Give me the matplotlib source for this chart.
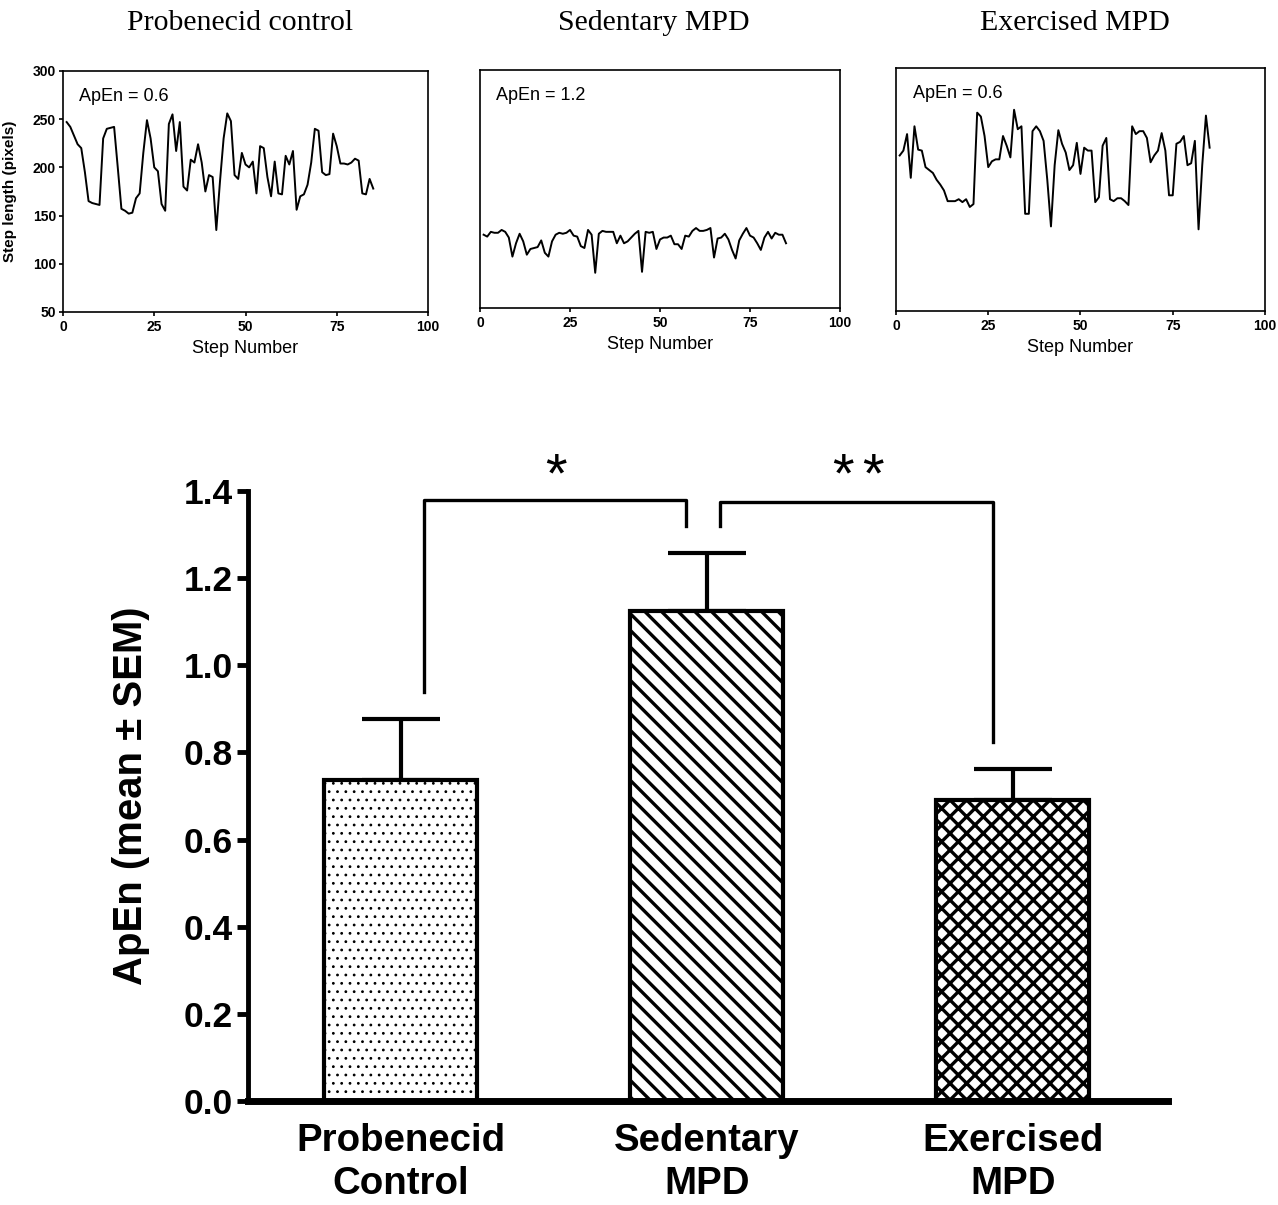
import numpy as np
import matplotlib
matplotlib.use("Agg")
import matplotlib.pyplot as plt
from matplotlib import font_manager

# step length traces (pixels), steps 1..85
steps = np.arange(1, 86)
probenecid_trace = [247, 242, 233, 224, 220, 195, 165, 163, 162, 161,
                    230, 240, 241, 242, 200, 157, 155, 152, 153, 168,
                    173, 215, 249, 230, 200, 196, 162, 155, 245, 255,
                    217, 247, 180, 176, 208, 205, 224, 205, 175, 192,
                    190, 135, 185, 230, 256, 248, 192, 188, 215, 203,
                    200, 206, 173, 222, 220, 190, 170, 206, 173, 172,
                    212, 203, 217, 156, 170, 172, 182, 205, 240, 238,
                    195, 192, 193, 235, 222, 204, 204, 203, 205, 209,
                    207, 173, 172, 188, 178]
sedentary_trace = [127, 125, 130, 129, 129, 132, 130, 124, 104, 118,
                   128, 120, 106, 112, 113, 114, 121, 108, 104, 120,
                   127, 129, 128, 129, 132, 126, 125, 115, 113, 132,
                   127, 87, 128, 131, 130, 130, 130, 118, 126, 118,
                   120, 124, 128, 131, 88, 130, 129, 130, 112, 122,
                   124, 124, 126, 117, 117, 112, 126, 125, 131, 134,
                   131, 131, 132, 134, 103, 123, 124, 128, 122, 111,
                   102, 121, 128, 134, 126, 124, 118, 111, 124, 130,
                   123, 129, 127, 127, 118]
exercised_trace = [210, 215, 232, 187, 240, 216, 215, 198, 195, 192,
                   185, 180, 174, 163, 163, 163, 165, 162, 165, 157,
                   160, 254, 250, 230, 198, 204, 206, 206, 230, 220,
                   208, 257, 237, 240, 150, 150, 235, 240, 235, 225,
                   185, 137, 200, 236, 222, 213, 195, 200, 223, 191,
                   218, 215, 215, 162, 167, 220, 228, 165, 163, 166,
                   166, 163, 159, 240, 232, 235, 235, 228, 203, 210,
                   215, 233, 215, 169, 169, 222, 224, 230, 200, 202,
                   225, 134, 200, 251, 218]

panel_titles = ["Probenecid control", "Sedentary MPD", "Exercised MPD"]
panel_apen = ["ApEn = 0.6", "ApEn = 1.2", "ApEn = 0.6"]

# bar chart
groups = ["Probenecid\nControl", "Sedentary\nMPD", "Exercised\nMPD"]
apen_mean = [0.737, 1.125, 0.691]
apen_sem = [0.140, 0.133, 0.071]
hatches = ["..", "\\\\", "xx"]

names = {f.name for f in font_manager.fontManager.ttflist}
if "Liberation Sans Narrow" in names:
    bold_font = "Liberation Sans Narrow"
    k = 1.0
else:
    bold_font = "Liberation Sans"
    k = 0.85

plt.rcParams["font.family"] = "Liberation Sans"

fig = plt.figure(figsize=(12.78, 12.05), dpi=100)

# top panels
traces = [probenecid_trace, sedentary_trace, exercised_trace]
boxes = [[0.0493, 0.7411, 0.2856, 0.2000],
         [0.3756, 0.7444, 0.2817, 0.1975],
         [0.7011, 0.7419, 0.2887, 0.2017]]
title_x = [240, 654, 1075]

for i in range(3):
    ax = fig.add_axes(boxes[i])
    ax.plot(steps, traces[i], color="black", lw=1.4)
    ax.set_xlim(0, 100)
    ax.set_ylim(50, 300)
    ax.set_xticks([0, 25, 50, 75, 100])
    for lab in ax.get_xticklabels():
        lab.set_fontweight("bold")
    ax.tick_params(axis="x", labelsize=10, length=3, width=1.2, pad=3)
    if i == 0:
        ax.set_yticks([50, 100, 150, 200, 250, 300])
        for lab in ax.get_yticklabels():
            lab.set_fontweight("bold")
        ax.tick_params(axis="y", labelsize=10, length=3, width=1.2, pad=2)
        ax.set_ylabel("Step length (pixels)", fontsize=11, fontweight="bold")
        ax.yaxis.set_label_coords(-0.125, 0.5)
    else:
        ax.set_yticks([])
    for s in ax.spines.values():
        s.set_linewidth(1.2)
    ax.set_xlabel("Step Number", fontsize=13, labelpad=4)
    ax.text(0.045, 0.93, panel_apen[i], transform=ax.transAxes,
            fontsize=13, va="top", ha="left")
    fig.text(title_x[i] / 1278, 1 - 23 / 1205, panel_titles[i],
             family="Liberation Serif", fontsize=21.5, ha="center", va="center")

# bar chart
ax = fig.add_axes([248 / 1278, 1 - 1101 / 1205, 920 / 1278, 610 / 1205])
x = np.arange(len(groups))
for i in range(3):
    b = ax.bar(x[i], apen_mean[i], width=0.5, color="white",
               edgecolor="black", linewidth=3, hatch=hatches[i], zorder=2)
    for p in b:
        if hasattr(p, "set_hatch_linewidth"):
            p.set_hatch_linewidth(0.8 if i == 0 else 2.4)
ax.errorbar(x, apen_mean, yerr=[[0, 0, 0], apen_sem], fmt="none",
            ecolor="black", elinewidth=3, capsize=28, capthick=3, zorder=1)

ax.set_xlim(-0.5, 2.507)
ax.set_ylim(0, 1.4)
ax.set_yticks(np.arange(0, 1.41, 0.2))
ax.set_yticklabels(["%.1f" % v for v in np.arange(0, 1.41, 0.2)],
                   family=bold_font, fontweight="bold", fontsize=30 * k)
ax.set_xticks(x)
ax.set_xticklabels(groups, family=bold_font, fontweight="bold",
                   fontsize=32.5 * k, linespacing=1.25)
ax.tick_params(axis="x", length=0, pad=16)
ax.tick_params(axis="y", length=8, width=3.5, pad=3)
ax.spines["top"].set_visible(False)
ax.spines["right"].set_visible(False)
ax.spines["left"].set_linewidth(3.5)
ax.spines["bottom"].set_linewidth(5)
ax.set_ylabel("ApEn (mean \u00b1 SEM)", family=bold_font, fontweight="bold",
              fontsize=34 * k)
ax.yaxis.set_label_coords(-0.107, 0.5)

# significance brackets
tops = [m + s + 0.062 for m, s in zip(apen_mean, apen_sem)]
lw_b = 2.4
ax.plot([x[0] + 0.075, x[0] + 0.075, x[1] - 0.069, x[1] - 0.069],
        [tops[0], 1.38, 1.38, tops[1]], color="black", lw=lw_b, clip_on=False)
ax.plot([x[1] + 0.042, x[1] + 0.042, x[2] - 0.065, x[2] - 0.065],
        [tops[1], 1.375, 1.375, tops[2]], color="black", lw=lw_b, clip_on=False)
ax.text(0.507, 1.43, "*", fontsize=40, ha="center", va="center")
for dx in (-0.049, 0.049):
    ax.text(1.493 + dx, 1.43, "*", fontsize=40, ha="center", va="center")

fig.savefig("out.png", dpi=100)
